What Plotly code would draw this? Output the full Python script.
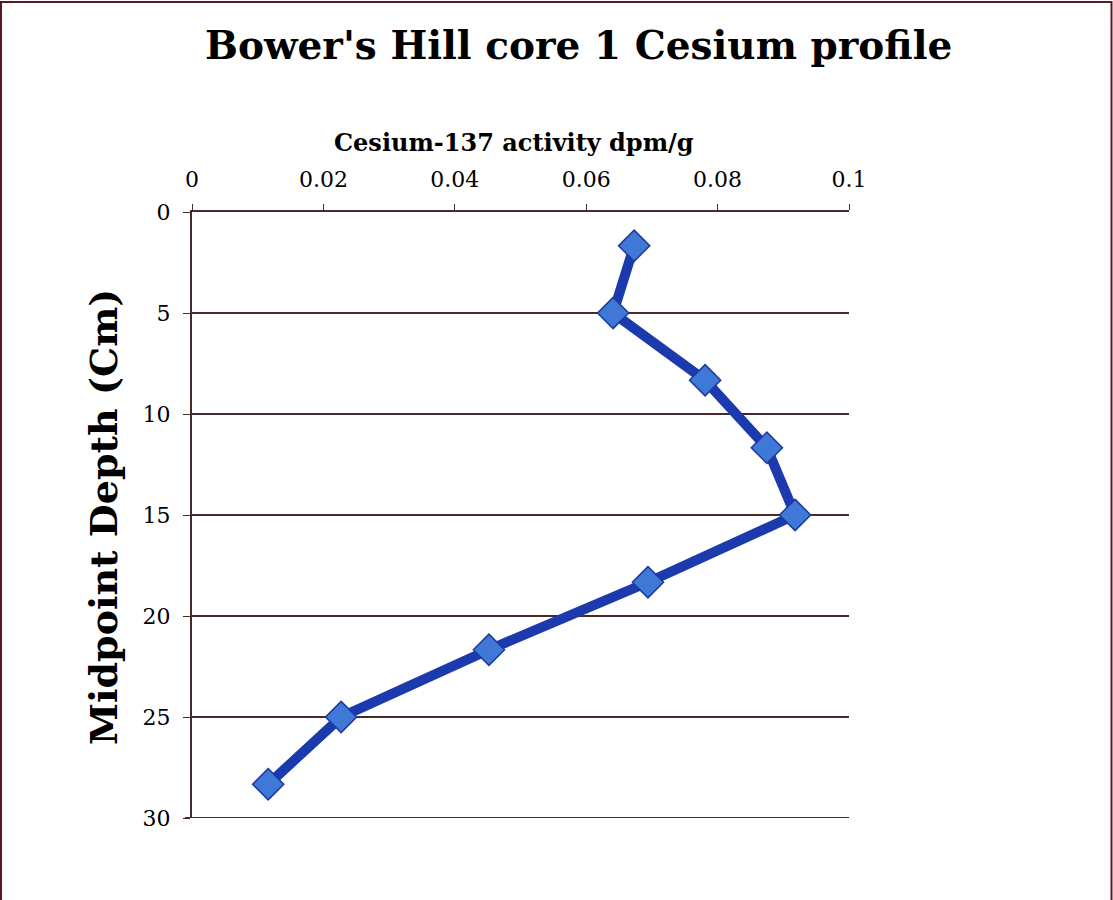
import plotly.graph_objects as go

# Cesium-137 activity (dpm/g) at each core section midpoint depth (cm)
depth_cm = [1.67, 5.0, 8.33, 11.67, 15.0, 18.33, 21.67, 25.0, 28.33]
activity = [0.0673, 0.0641, 0.0781, 0.0875, 0.0918, 0.0694, 0.0452, 0.0227, 0.0116]

x_ticks = [0, 0.02, 0.04, 0.06, 0.08, 0.1]
x_tick_text = ["0", "0.02", "0.04", "0.06", "0.08", "0.1"]
y_ticks = [0, 5, 10, 15, 20, 25, 30]

title_text = "Bower's Hill core 1 Cesium profile"
x_title = "Cesium-137 activity dpm/g"
y_title = "Midpoint Depth (Cm)"

W, H = 1113, 900
L, R, T, B = 192, 849, 212, 818
FONT = "DejaVu Serif"
AXIS_COL = "#4a2a28"

def px(xp):
    return (xp - L) / (R - L)

def py(yp):
    return (B - yp) / (B - T)

fig = go.Figure()
fig.add_trace(go.Scatter(
    x=activity, y=depth_cm, mode="lines+markers",
    line=dict(color="#1a3aae", width=10),
    marker=dict(symbol="diamond", size=24, color="#3f78d6",
                line=dict(color="#1a3a9e", width=1.5)),
    showlegend=False,
))

fig.update_layout(
    width=W, height=H,
    margin=dict(l=L, r=W - R, t=T, b=H - B, pad=0),
    paper_bgcolor="white", plot_bgcolor="white",
    xaxis=dict(
        side="top", range=[0, 0.1], tickvals=x_ticks, ticktext=x_tick_text,
        showgrid=False, zeroline=False, showline=True, linecolor=AXIS_COL,
        linewidth=1.5, ticks="outside", ticklen=6, tickcolor=AXIS_COL,
        ticklabelstandoff=8,
        tickfont=dict(family=FONT, size=22, color="black"),
    ),
    yaxis=dict(
        range=[30, 0], tickvals=y_ticks, showgrid=True, gridcolor=AXIS_COL,
        gridwidth=2, zeroline=False, showline=True, linecolor=AXIS_COL,
        linewidth=2, ticks="outside", ticklen=7, tickcolor=AXIS_COL,
        ticklabelstandoff=8,
        tickfont=dict(family=FONT, size=22, color="black"),
    ),
    annotations=[
        dict(text=f"<b>{title_text}</b>", xref="paper", yref="paper",
             x=px(578), y=py(45), showarrow=False, xanchor="center", yanchor="middle",
             font=dict(family=FONT, size=39, color="black")),
        dict(text=f"<b>{x_title}</b>", xref="paper", yref="paper",
             x=px(514), y=py(142), showarrow=False, xanchor="center", yanchor="middle",
             font=dict(family=FONT, size=24, color="black")),
        dict(text=f"<b>{y_title}</b>", xref="paper", yref="paper",
             x=px(103), y=py(517), showarrow=False, xanchor="center", yanchor="middle",
             textangle=-90, font=dict(family=FONT, size=38, color="black")),
    ],
    shapes=[
        # bottom grid line at the edge of the depth range
        dict(type="line", xref="paper", yref="y", x0=px(185), x1=1,
             y0=30, y1=30, line=dict(color=AXIS_COL, width=2), layer="below"),
        # frame around the figure
        dict(type="line", xref="paper", yref="paper", x0=px(1), x1=px(1),
             y0=py(1), y1=py(H), line=dict(color="#5a1a22", width=2)),
        dict(type="line", xref="paper", yref="paper", x0=px(1), x1=px(1112),
             y0=py(2), y1=py(2), line=dict(color="#5a1a22", width=2)),
        dict(type="line", xref="paper", yref="paper", x0=px(1111.5), x1=px(1111.5),
             y0=py(1), y1=py(H), line=dict(color="#5a1a22", width=2)),
    ],
)

fig.write_html("out.html")
